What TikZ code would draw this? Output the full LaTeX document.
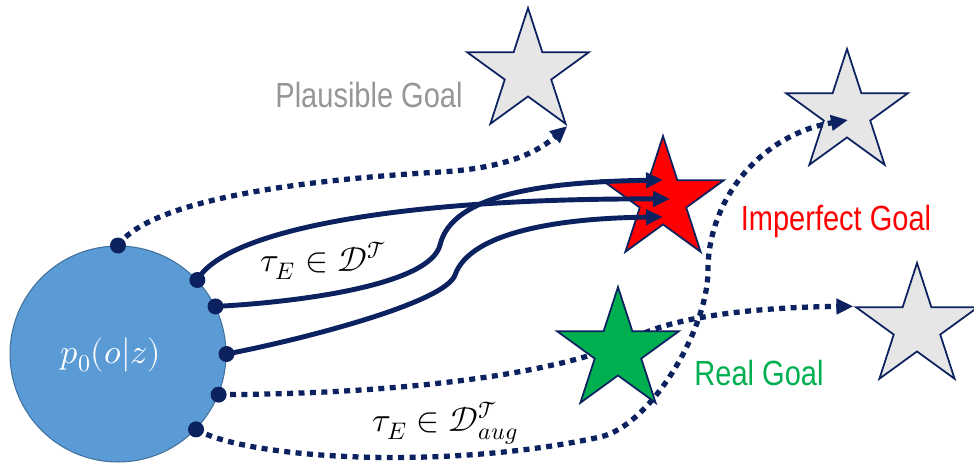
\documentclass[tikz,border=0pt]{standalone}
\usepackage{amsmath}
\usepackage{fontspec}
\usepackage{unicode-math}
\newfontfamily\goalfont[FakeStretch=0.83]{Liberation Sans}
\usetikzlibrary{positioning, arrows.meta, shapes.geometric}
\definecolor{navy}{HTML}{0C2260}
\definecolor{priorblue}{HTML}{5B9BD5}
\definecolor{priorline}{HTML}{41719C}
\definecolor{goalgray}{HTML}{E7E6E6}
\definecolor{plausgray}{HTML}{969696}
\definecolor{goalred}{HTML}{FF0000}
\definecolor{goalgreen}{HTML}{00B050}

\begin{document}
\begin{tikzpicture}[x=0.02cm, y=-0.02cm,
    goal/.style={star, star points=5, star point ratio=2.618, draw=navy, line width=1pt, minimum size=2.56cm, inner sep=0pt},
    dot/.style={circle, fill=navy, minimum size=0.32cm, inner sep=0pt},
    traj/.style={draw=navy, line width=2.8pt, -{Triangle[length=0.34cm, width=0.3cm]}},
    aug/.style={traj, line width=3pt, dash pattern=on 3.4pt off 3.1pt},
    lbl/.style={font=\goalfont\fontsize{19.9}{22}\selectfont, anchor=base},
    mlbl/.style={font=\fontsize{19.5}{21}\selectfont, anchor=base},
  ]
    \useasboundingbox (0,0) rectangle (974,468);

    % goals
    \node[goal, fill=goalgray] (plaus) at (528,72) {};
    \node[goal, fill=goalgray] (alt1) at (847,113) {};
    \node[goal, fill=goalgray] (alt2) at (917,327) {};
    \node[goal, fill=goalred] (imperf) at (663,200) {};

    % initial state distribution
    \node[circle, fill=priorblue, draw=priorline, line width=0.6pt, minimum size=4.32cm, inner sep=0pt] (prior) at (118,354) {};
    \node[mlbl, text=white, anchor=center] (priorlbl) at (111,355) {$p_0(o|z)$};
    \node[dot] (s1) at (prior.90) {};
    \node[dot] (s2) at (prior.43) {};
    \node[dot] (s3) at (prior.26) {};
    \node[dot] (s4) at (prior.0) {};
    \node[dot] (s5) at (prior.-22) {};
    \node[dot] (s6) at (prior.-44) {};

    \coordinate (t1) at (663,180);
    \coordinate (t2) at (670,199);
    \coordinate (t3) at (663,217);
    \coordinate (t4) at (848,120);

    % augmented trajectories
    \draw[aug] (s5.center) .. controls (420,394) and (580,370) .. (640,335)
      .. controls (680,316) and (760,307) .. (alt2.outer point 2);
    \node[goal, fill=goalgreen] (real) at (618,351) {};
    \draw[aug] (s1.center) .. controls (150,200) and (300,180) .. (440,172)
      .. controls (510,168) and (540,150) .. (plaus.outer point 4);
    \draw[aug] (s6.center) .. controls (250,460) and (450,470) .. (600,437)
      .. controls (650,426) and (708,330) .. (708,270)
      .. controls (708,200) and (760,135) .. (t4);

    % demonstrations
    \draw[traj] (s2.center) .. controls (225,230) and (400,198) .. (t2);
    \draw[traj] (s3.center) .. controls (300,302) and (430,285) .. (440,245)
      .. controls (452,195) and (540,182) .. (t1);
    \draw[traj] (s4.center) .. controls (300,340) and (445,303) .. (455,275)
      .. controls (470,232) and (560,218) .. (t3);

    \node[lbl, text=plausgray] (plauslbl) at (369,107) {Plausible Goal};
    \node[lbl, text=goalred] (imperflbl) at (836,230) {Imperfect Goal};
    \node[lbl, text=goalgreen] (reallbl) at (759,385) {Real Goal};
    \node[mlbl] (demolbl) at (324,271) {$\tau_E \in \mathcal{D}^{\mathcal{T}}$};
    \node[mlbl] (auglbl) at (445,431) {$\tau_E \in \mathcal{D}^{\mathcal{T}}_{aug}$};
  \end{tikzpicture}
\end{document}
